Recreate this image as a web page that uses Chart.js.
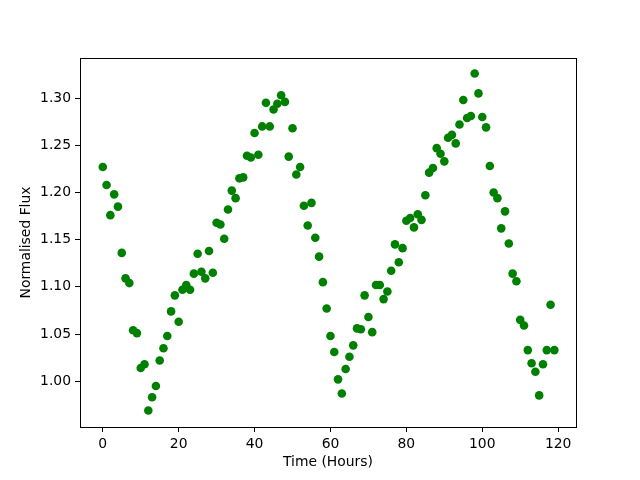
<!DOCTYPE html>
<html>
<head>
<meta charset="utf-8">
<script src="https://cdn.jsdelivr.net/npm/chart.js@4/dist/chart.umd.min.js"></script>
<style>
  html, body { margin: 0; padding: 0; background: #fff; }
  #wrap { width: 640px; height: 480px; }
</style>
</head>
<body>
<div id="wrap"><canvas id="Flux-Chart" width="640" height="480"></canvas></div>
<script>
// time in hours, one reading per hour
const hours = [];
for (let h = 0; h < 120; h++) hours.push(h);

const flux = [
  1.227, 1.208, 1.176, 1.198, 1.185, 1.136, 1.109, 1.104, 1.054, 1.051,
  1.014, 1.018, 0.969, 0.983, 0.995, 1.022, 1.035, 1.048, 1.074, 1.091,
  1.063, 1.097, 1.102, 1.097, 1.114, 1.135, 1.116, 1.109, 1.138, 1.115,
  1.168, 1.166, 1.151, 1.182, 1.202, 1.194, 1.215, 1.216, 1.239, 1.237,
  1.263, 1.240, 1.270, 1.295, 1.270, 1.288, 1.294, 1.303, 1.296, 1.238,
  1.268, 1.219, 1.227, 1.186, 1.165, 1.189, 1.152, 1.132, 1.105, 1.077,
  1.048, 1.031, 1.002, 0.987, 1.013, 1.026, 1.038, 1.056, 1.055, 1.091,
  1.068, 1.052, 1.102, 1.102, 1.087, 1.095, 1.117, 1.145, 1.126, 1.141,
  1.170, 1.173, 1.163, 1.177, 1.171, 1.197, 1.221, 1.226, 1.247, 1.241,
  1.233, 1.258, 1.261, 1.252, 1.272, 1.298, 1.279, 1.281, 1.326, 1.305,
  1.280, 1.269, 1.228, 1.200, 1.194, 1.162, 1.180, 1.146, 1.114, 1.106,
  1.065, 1.059, 1.033, 1.019, 1.010, 0.985, 1.018, 1.033, 1.081, 1.033
];

const xTicks = [0, 20, 40, 60, 80, 100, 120];
const yTicks = [1.00, 1.05, 1.10, 1.15, 1.20, 1.25, 1.30];

const points = hours.map((h, i) => ({ x: h, y: flux[i] }));

const font = { family: 'DejaVu Sans', size: 13.9 };

// matplotlib style box round the plot
const frame = {
  id: 'frame',
  afterDraw(chart) {
    const { ctx, chartArea: a } = chart;
    ctx.save();
    ctx.strokeStyle = '#000';
    ctx.lineWidth = 1;
    ctx.strokeRect(Math.round(a.left) + 0.5, Math.round(a.top) + 0.5,
      Math.round(a.right - a.left), Math.round(a.bottom - a.top));
    ctx.restore();
  }
};

const ctx = document.getElementById('Flux-Chart').getContext('2d');
const fluxChart = new Chart(ctx, {
  type: 'scatter',
  data: {
    datasets: [{
      label: '',
      data: points,
      backgroundColor: '#008000',
      borderColor: '#008000',
      pointRadius: 4.3,
      pointHoverRadius: 4.3,
      borderWidth: 0
    }]
  },
  options: {
    responsive: false,
    animation: false,
    layout: { padding: { top: 58, right: 64, left: 0, bottom: 0 } },
    scales: {
      x: {
        type: 'linear',
        min: -6.0,
        max: 124.7,
        afterBuildTicks: (s) => { s.ticks = xTicks.map(v => ({ value: v })); },
        afterFit: (s) => { s.height = 53; },
        border: { display: false },
        grid: { drawOnChartArea: false, drawTicks: true, tickLength: 5, color: '#000' },
        ticks: { color: '#000', font: font, padding: 4, maxRotation: 0 },
        title: { display: true, text: 'Time (Hours)', color: '#000', font: font, padding: { top: 0, bottom: 9 } }
      },
      y: {
        type: 'linear',
        min: 0.9515,
        max: 1.3425,
        afterBuildTicks: (s) => { s.ticks = yTicks.map(v => ({ value: v })); },
        afterFit: (s) => { s.width = 80; },
        border: { display: false },
        grid: { drawOnChartArea: false, drawTicks: true, tickLength: 5, color: '#000' },
        ticks: { color: '#000', font: font, padding: 4, callback: (v) => Number(v).toFixed(2) },
        title: { display: true, text: 'Normalised Flux', color: '#000', font: font, padding: { top: 18, bottom: 0 } }
      }
    },
    plugins: {
      legend: { display: false },
      tooltip: { enabled: false }
    }
  },
  plugins: [frame]
});
</script>
</body>
</html>
